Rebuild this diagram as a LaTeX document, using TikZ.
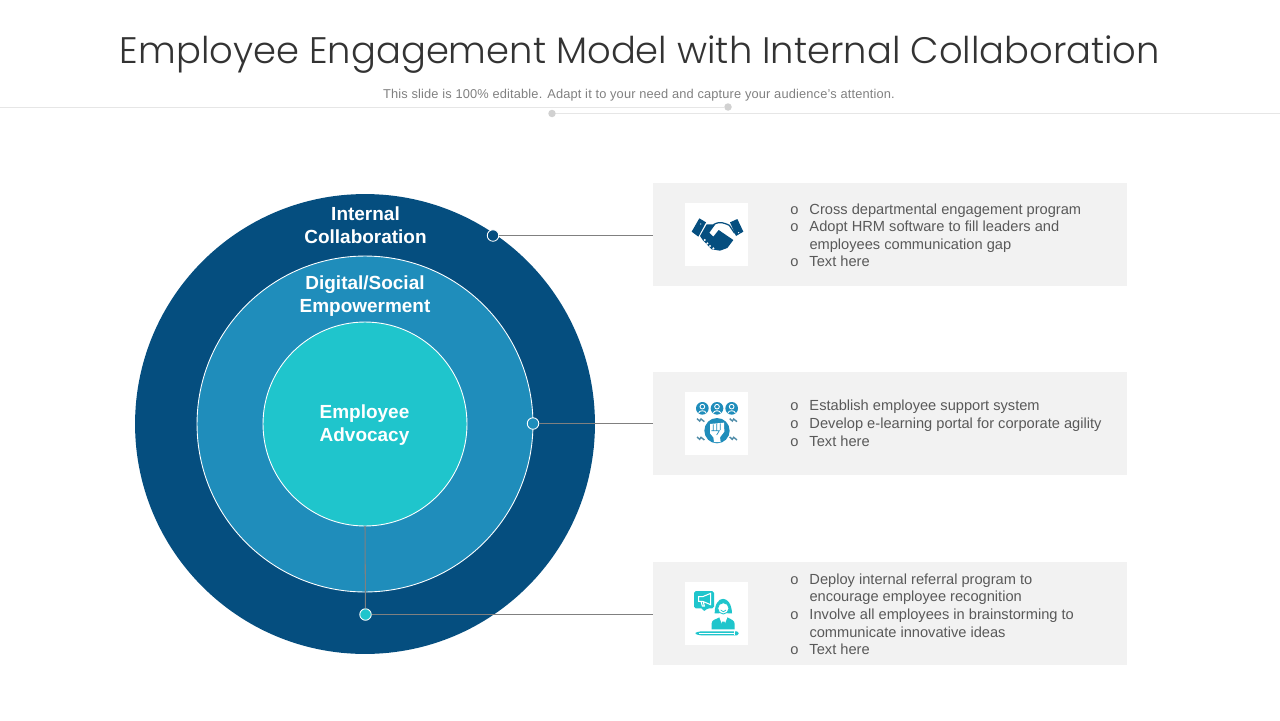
\documentclass[tikz,border=0pt]{standalone}
\usepackage{fontspec}
\setmainfont{Liberation Sans}
\newfontfamily\titlefont[UprightFont=* Light]{Poppins}
\definecolor{ringdark}{HTML}{054E7F}
\definecolor{ringmid}{HTML}{1F8DBB}
\definecolor{ringlight}{HTML}{1FC5CC}
\definecolor{panel}{HTML}{F2F2F2}
\definecolor{bodytext}{HTML}{595959}
\definecolor{subtext}{HTML}{808080}
\definecolor{rulegray}{HTML}{E6E6E6}
\definecolor{zigzag}{HTML}{4F8CA8}
\tikzset{
ring/.style={circle, draw=white, line width=0.5pt, inner sep=0pt, outer sep=0pt},
ringlabel/.style={text=white, align=center, font=\fontsize{10.8}{13}\selectfont\bfseries},
panelbox/.style={rectangle, fill=panel, minimum width=9.48cm, minimum height=2.06cm, inner sep=0pt, outer sep=0pt},
iconbox/.style={rectangle, fill=white, minimum size=1.26cm, inner sep=0pt},
linkdot/.style={circle, draw=white, line width=0.5pt, minimum size=0.23cm, inner sep=0pt},
headdot/.style={circle, fill=rulegray!80!gray, minimum size=0.15cm, inner sep=0pt},
link/.style={draw=gray, line width=0.6pt},
panellist/.style={anchor=west, inner sep=0pt, text=bodytext, font=\fontsize{8.33}{10}\selectfont}
}
\newcommand{\itemrows}[1]{\begin{tabular}{@{}l@{\hspace{0.22cm}}l@{}}#1\end{tabular}}
\begin{document}
\begin{tikzpicture}[x=0.02cm,y=-0.02cm]
\useasboundingbox (0,0) rectangle (1280,720);
% heading
\node[text=black!80, font=\titlefont\fontsize{21}{26}\selectfont] (title) at (640,55) {Employee Engagement Model with Internal Collaboration};
\node[text=subtext, font=\fontsize{7.3}{9}\selectfont\addfontfeature{LetterSpace=1.3}] (subtitle) at (639,95) {This slide is 100\% editable. Adapt it to your need and capture your audience's attention.};
\node[headdot] (headA) at (728,107) {};
\node[headdot] (headB) at (552,113.5) {};
\coordinate (ruleA) at (0,107);
\coordinate (ruleB) at (1280,113.5);
\draw[rulegray, line width=0.4pt] (ruleA) -- (headA);
\draw[rulegray, line width=0.4pt] (headB) -- (ruleB);
% rings
\node[circle, fill=ringdark, minimum size=9.2cm, inner sep=0pt] (outer) at (365,424) {};
\node[ring, fill=ringmid, minimum size=6.72cm] (middle) at (365,424) {};
\node[ring, fill=ringlight, minimum size=4.08cm] (inner) at (365,424) {};
\node[ringlabel] (labelA) at (365.5,225) {Internal\\Collaboration};
\node[ringlabel] (labelB) at (365,296) {Digital/Social\\Empowerment};
\node[ringlabel] (labelC) at (364.5,425) {Employee\\Advocacy};
% panels
\node[panelbox] (boxA) at (890,234.5) {};
\node[panelbox] (boxB) at (890,423.5) {};
\node[panelbox] (boxC) at (890,613.5) {};
\node[iconbox] (iconA) at (716.5,234.5) {};
\node[iconbox] (iconB) at (716.5,423.5) {};
\node[iconbox] (iconC) at (716.5,613.5) {};
% links
\node[linkdot, fill=ringdark] (dotA) at (493,235.5) {};
\node[linkdot, fill=ringmid] (dotB) at (533,423.5) {};
\node[linkdot, fill=ringlight] (dotC) at (365.5,614.5) {};
\draw[link] (dotA) -- (dotA -| boxA.west);
\draw[link] (dotB) -- (dotB -| boxB.west);
\draw[link] (dotC) -- (dotC -| boxC.west);
\draw[link] (inner.south) -- (dotC);
% texts
\node[panellist] (listA) at (790,237) {\itemrows{o & Cross departmental engagement program\\ o & Adopt HRM software to fill leaders and\\ & employees communication gap\\ o & Text here}};
\node[panellist] (listB) at (790,425) {\itemrows{o & Establish employee support system\\ o & Develop e-learning portal for corporate agility\\ o & Text here}};
\node[panellist] (listC) at (790,616) {\itemrows{o & Deploy internal referral program to\\ & encourage employee recognition\\ o & Involve all employees in brainstorming to\\ & communicate innovative ideas\\ o & Text here}};
% handshake
\begin{scope}[shift={(670,190)},scale=1/3]
\fill[ringdark] (88,85)--(108,97)--(85,140)--(65,125)--cycle;
\fill[ringdark] (180,97)--(202,87)--(220,125)--(198,138)--cycle;
\draw[ringdark, line width=0.7pt] (130,104) .. controls (150,92) and (165,100) .. (178,106) -- (194,130);
\fill[ringdark] (110,103)--(136,103)--(118,128)--(130,140)--(146,120)--(190,150)--(172,174)--(150,182)--(125,178)--(98,150)--(90,138)--cycle;
\foreach \px/\py in {104/150, 112/160, 120/168, 130/175}
  \fill[white] (\px,\py) circle (3.5);
\fill[white] (92,102) circle (2);
\fill[white] (206,128) circle (2);
\end{scope}
% fist
\begin{scope}[shift={(670,380)},scale=1/3]
\foreach \px in {97,141,185}{
  \fill[ringmid] (\px,85) circle (19);
  \draw[white, line width=0.5pt] (\px,80) circle (7);
  \draw[white, line width=0.5pt] (\px-11,99) .. controls (\px-10,90) and (\px+10,90) .. (\px+11,99);
}
\fill[ringmid] (141,152) circle (38);
\fill[white] (120,132)--(162,128)--(163,155)--(150,172)--(152,186)--(132,186)--(130,172)--(120,160)--cycle;
\draw[ringmid, line width=0.4pt] (130,133)--(130,150) (140,131)--(140,150) (151,130)--(151,150) (124,152)--(148,152)--(140,165);
\foreach \px/\py in {92/120, 190/120, 92/175, 190/175}
  \draw[zigzag, line width=0.8pt] (\px-11,\py-4)--(\px-3,\py+3)--(\px+1,\py-3)--(\px+11,\py+5);
\end{scope}
% person
\begin{scope}[shift={(670,570)},scale=1/3]
\fill[ringlight, rounded corners=1pt] (72,63)--(132,63)--(132,115)--(112,115)--(100,126)--(100,115)--(72,115)--cycle;
\draw[white, line width=0.6pt] (86,80)--(98,80)--(122,70)--(122,104)--(98,94)--(86,94)--cycle (93,94)--(97,108)--(103,108)--(100,96);
\fill[ringlight] (134,130) .. controls (134,72) and (184,72) .. (186,130) -- (172,130) .. controls (178,100) and (142,100) .. (148,130) -- cycle;
\draw[ringlight, line width=0.5pt, fill=white] (160,115) circle (17);
\draw[ringlight, line width=0.4pt] (152,120) .. controls (156,127) and (164,127) .. (168,120);
\fill[ringlight] (125,178) -- (125,160) .. controls (125,148) and (140,148) .. (148,142) -- (160,160) -- (172,142) .. controls (182,148) and (194,150) .. (194,162) -- (194,178) -- cycle;
\fill[white] (148,142)--(172,142)--(165,160)--(160,165)--(155,160)--cycle;
\fill[ringlight] (156,155)--(164,155)--(166,176)--(154,176)--cycle;
\fill[ringlight, rounded corners=1pt] (72,190)--(88,184)--(206,184)--(206,196)--(88,196)--cycle;
\draw[white, line width=0.3pt] (88,190)--(192,190) (192,184)--(192,196);
\end{scope}
\end{tikzpicture}
\end{document}
